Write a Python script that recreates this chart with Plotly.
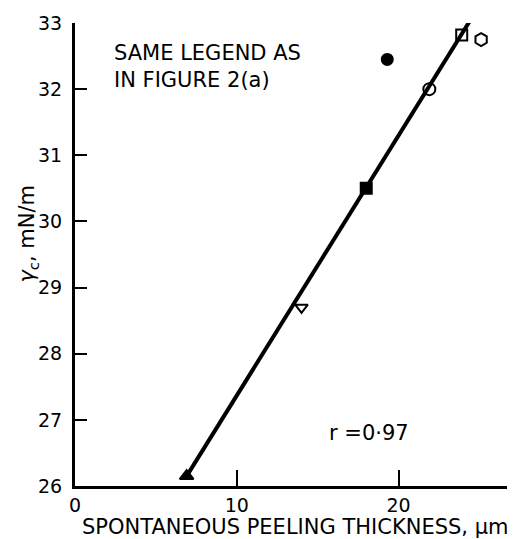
import plotly.graph_objects as go

# Data
thickness = [6.9, 14.0, 18.0, 19.3, 21.9, 23.9, 25.1]
gamma_c = [26.15, 28.7, 30.5, 32.45, 32.0, 32.82, 32.75]
symbols = ["triangle-up", "triangle-down-open", "square", "circle",
           "circle-open", "square-open", "hexagon-open"]
sizes = [12, 11, 11, 11, 12, 11, 13]

fit_x = [6.9, 24.4]
fit_y = [26.15, 33.03]

x_ticks = [0, 10, 20]
y_ticks = [26, 27, 28, 29, 30, 31, 32, 33]

FONT = "DejaVu Sans"

fig = go.Figure()
fig.add_trace(go.Scatter(
    x=fit_x, y=fit_y, mode="lines",
    line=dict(color="black", width=4), showlegend=False, hoverinfo="skip"))
fig.add_trace(go.Scatter(
    x=thickness, y=gamma_c, mode="markers",
    marker=dict(symbol=symbols, size=sizes, color="black", opacity=1,
                line=dict(color="black", width=2)),
    showlegend=False))

fig.update_layout(
    width=529, height=539,
    margin=dict(l=75, r=22, t=16, b=53),
    paper_bgcolor="white", plot_bgcolor="white",
    font=dict(family=FONT, size=19, color="black"),
    xaxis=dict(range=[0, 26.7], tickvals=x_ticks, ticktext=[str(v) for v in x_ticks],
               showgrid=False, zeroline=False, showline=True, linecolor="black",
               linewidth=3, ticks="inside", ticklen=16, tickwidth=2, tickcolor="black",
               tickfont=dict(size=19)),
    yaxis=dict(range=[26, 33], tickvals=y_ticks, ticktext=[str(v) for v in y_ticks],
               showgrid=False, zeroline=False, showline=True, linecolor="black",
               linewidth=3, ticks="inside", ticklen=12, tickwidth=2, tickcolor="black",
               tickfont=dict(size=19), ticklabelstandoff=6),
    annotations=[
        dict(text="SPONTANEOUS PEELING THICKNESS, μm", xref="paper", yref="paper",
             x=1.007, y=-0.089, xanchor="right", yanchor="middle", showarrow=False,
             font=dict(size=21)),
        dict(text="<i>γ</i><sub>c</sub>, mN/m", xref="paper", yref="paper",
             x=-0.109, y=0.545, xanchor="center", yanchor="middle", showarrow=False,
             textangle=-90, font=dict(size=21)),
        dict(text="SAME LEGEND AS<br>IN FIGURE 2(a)", xref="paper", yref="paper",
             x=0.086, y=0.905, xanchor="left", yanchor="middle", showarrow=False,
             align="left", font=dict(size=21)),
        dict(text="r =0·97", xref="x", yref="y",
             x=18.2, y=26.8, xanchor="center", yanchor="middle", showarrow=False,
             font=dict(size=21)),
    ],
)

fig.write_html("out.html")
